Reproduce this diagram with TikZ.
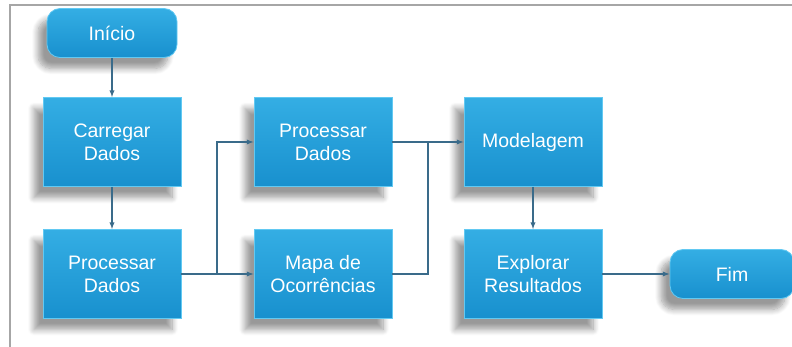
\documentclass[tikz,border=0pt]{standalone}
\usepackage{fontspec}
\setmainfont{Liberation Sans}
\usetikzlibrary{shadows.blur}
\definecolor{boxtop}{HTML}{34AEE4}
\definecolor{boxbot}{HTML}{1890CE}
\definecolor{boxrim}{HTML}{62C9F2}
\definecolor{linkcol}{HTML}{3A6B8A}
\definecolor{framecol}{HTML}{A6A6A6}
\tikzset{every picture/.style={/utils/exec={\fontsize{19.5}{23}\selectfont}}}
\tikzstyle{line}=[linkcol,line width=1.3pt]
\tikzstyle{arrow}=[line,->,>=latex]
\tikzstyle{block}=[draw=boxrim,line width=0.8pt,top color=boxtop,bottom color=boxbot,
  text=white,align=center,inner sep=0pt,
  blur shadow={shadow xshift=-9pt,shadow yshift=-11pt,shadow blur steps=10,shadow blur radius=6pt,shadow opacity=40}]
\tikzstyle{stepbox}=[block,minimum width=138pt,minimum height=89pt]
\tikzstyle{terminal}=[block,rounded corners=13pt,minimum height=49pt]
\begin{document}
\begin{tikzpicture}[x=1pt,y=-1pt]
    \useasboundingbox (0,0) rectangle (792,347);
    \draw[framecol,line width=1.5pt] (792,5) -- (10,5) -- (10,347);
    \node[terminal,minimum width=130pt] (Inicio) at (112,33) {Início};
    \node[stepbox] (Load)    at (112,142) {Carregar\\Dados};
    \node[stepbox] (ProcA)   at (112,274) {Processar\\Dados};
    \node[stepbox] (ProcB)   at (323,142) {Processar\\Dados};
    \node[stepbox] (Map)     at (323,274) {Mapa de\\Ocorrências};
    \node[stepbox] (Model)   at (533,142) {Modelagem};
    \node[stepbox] (Explore) at (533,274) {Explorar\\Resultados};
    \node[terminal,minimum width=124pt] (Fim) at (732,274) {Fim};
    \coordinate (Split) at (217,274);
    \coordinate (Join)  at (428,142);
    \draw[arrow] (Inicio.south) -- (Load.north);
    \draw[arrow] (Load.south) -- (ProcA.north);
    \draw[line] (ProcA.east) -- (Split);
    \draw[arrow] (Split) |- (ProcB.west);
    \draw[arrow] (Split) -- (Map.west);
    \draw[arrow] (ProcB.east) -- (Model.west);
    \draw[line] (Map.east) -| (Join);
    \draw[arrow] (Model.south) -- (Explore.north);
    \draw[arrow] (Explore.east) -- (Fim.west);
  \end{tikzpicture}
\end{document}
